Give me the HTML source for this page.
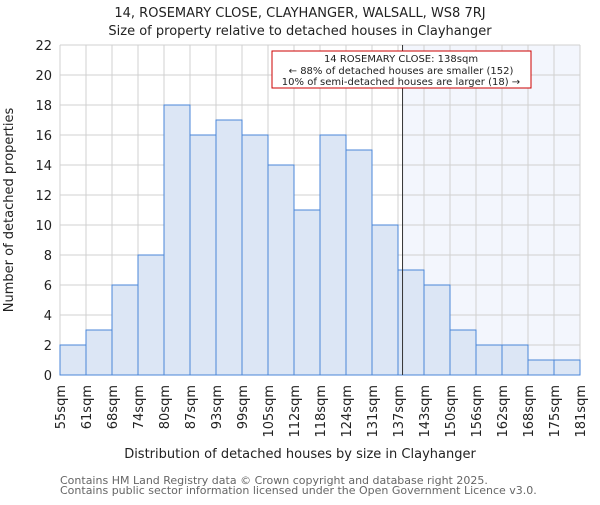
<!DOCTYPE html>
<html><head><meta charset="utf-8"><style>
body{margin:0;background:#fff}
text{font-family:"DejaVu Sans","Liberation Sans",sans-serif;fill:#222}
</style></head><body>
<svg id="c" width="600" height="500"></svg>
<script>
const categories=["55sqm","61sqm","68sqm","74sqm","80sqm","87sqm","93sqm","99sqm","105sqm","112sqm","118sqm","124sqm","131sqm","137sqm","143sqm","150sqm","156sqm","162sqm","168sqm","175sqm","181sqm"];
const counts=[2,3,6,8,18,16,17,16,14,11,16,15,10,7,6,3,2,2,1,1];
const yTicks=[0,2,4,6,8,10,12,14,16,18,20,22];
const subjectSqm=138;
const xMin=55,xMax=181;
const L=60,R=580,T=45,B=375,yMax=22;
const svg=document.getElementById('c');
const NS='http://www.w3.org/2000/svg';
const bw=(R-L)/counts.length;
const xi=i=>L+i*bw;
const xv=v=>L+(v-xMin)/(xMax-xMin)*(R-L);
const y=v=>B-v/yMax*(B-T);
function mk(tag,a,txt){const e=document.createElementNS(NS,tag);for(const k in a)e.setAttribute(k,a[k]);if(txt!==undefined)e.textContent=txt;svg.appendChild(e);return e;}
const mx=xv(subjectSqm);
let e=mk('rect',{x:mx,y:T,width:R-mx,height:B-T,fill:'#f3f6fd'});


yTicks.forEach(t=>{e=mk('line',{x1:L,x2:R,y1:y(t),y2:y(t),stroke:'#d0d0d0'});


e=mk('text',{x:L-8,y:y(t)+5,'text-anchor':'end','font-size':13},t);

});
categories.forEach((c,i)=>{e=mk('line',{x1:xi(i),x2:xi(i),y1:T,y2:B,stroke:'#d0d0d0'});


e=mk('text',{transform:`translate(${xi(i)+5},${B+10}) rotate(-90)`,'text-anchor':'end','font-size':13},c);

});
counts.forEach((v,i)=>{e=mk('rect',{x:xi(i),y:y(v),width:bw,height:B-y(v),fill:'#dce6f5',stroke:'#4a86d8','stroke-width':1});

});
e=mk('line',{x1:mx,x2:mx,y1:T,y2:B,stroke:'#333','stroke-width':1});


e=mk('rect',{x:272,y:51,width:259,height:37,fill:'#fff',stroke:'#c00','stroke-width':1});


[["14 ROSEMARY CLOSE: 138sqm",62],["← 88% of detached houses are smaller (152)",74],["10% of semi-detached houses are larger (18) →",85]].forEach(a=>{
e=mk('text',{x:401,y:a[1],'text-anchor':'middle','font-size':10},a[0]);

});
e=mk('text',{x:300,y:17,'text-anchor':'middle','font-size':13},"14, ROSEMARY CLOSE, CLAYHANGER, WALSALL, WS8 7RJ");


e=mk('text',{x:300,y:35,'text-anchor':'middle','font-size':13},"Size of property relative to detached houses in Clayhanger");


e=mk('text',{x:300,y:458,'text-anchor':'middle','font-size':13},"Distribution of detached houses by size in Clayhanger");


e=mk('text',{transform:'translate(13,210) rotate(-90)','text-anchor':'middle','font-size':13},"Number of detached properties");


e=mk('text',{x:60,y:484,'font-size':11,style:'fill:#666'},"Contains HM Land Registry data © Crown copyright and database right 2025.");


e=mk('text',{x:60,y:494,'font-size':11,style:'fill:#666'},"Contains public sector information licensed under the Open Government Licence v3.0.");


</script>
</body></html>
